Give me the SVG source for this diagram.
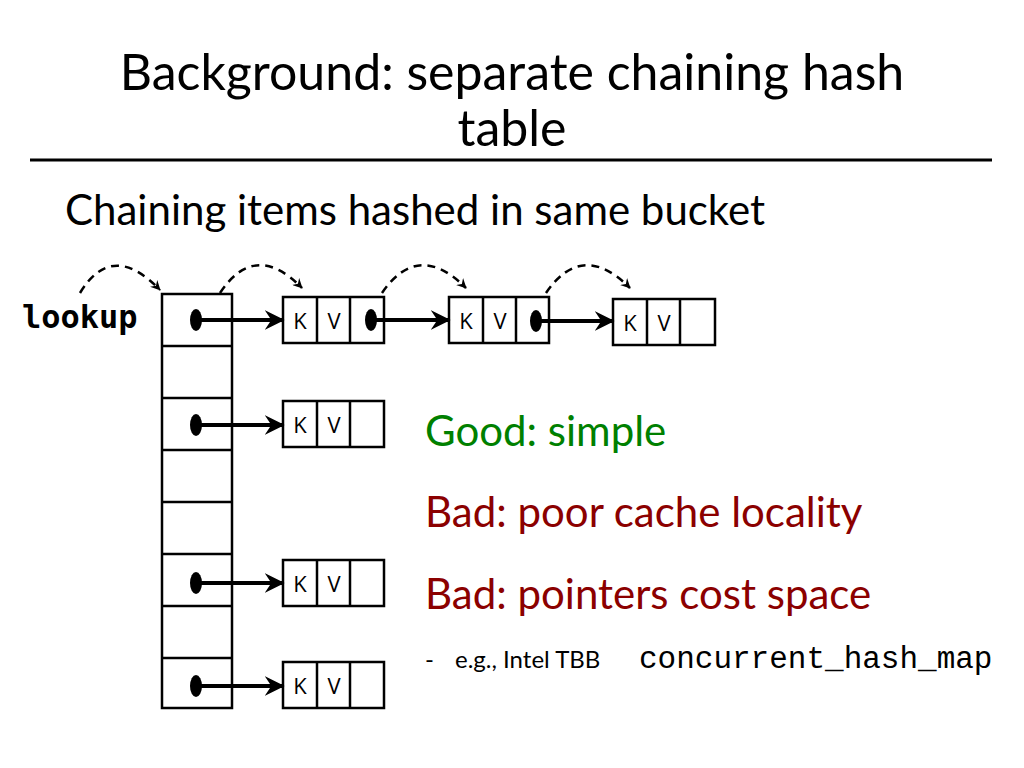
<svg xmlns="http://www.w3.org/2000/svg" width="1024" height="768" viewBox="0 0 1024 768">
<style>
.t{font-family:Lato,"Liberation Sans",sans-serif}
.b{fill:#fff;stroke:#000;stroke-width:2.5}
.l line,line.l{stroke:#000;stroke-width:2.5}
.c line{stroke:#000;stroke-width:4}
.d{fill:none;stroke:#000;stroke-width:2.5;stroke-dasharray:8,6}
.kv{font-family:"Open Sans","Liberation Sans",sans-serif;font-size:22px}
</style>
<defs>
<marker id="a" viewBox="0 0 12 12" refX="11" refY="6" markerWidth="10" markerHeight="10" markerUnits="userSpaceOnUse" orient="auto"><path d="M0,0 L12,6 L0,12 L4,6 Z"/></marker>
<marker id="ah" viewBox="0 0 12 12" refX="11" refY="6" markerWidth="20" markerHeight="20" markerUnits="userSpaceOnUse" orient="auto"><path d="M0,0 L12,6 L0,12 L4,6 Z"/></marker>
</defs>
<rect width="1024" height="768" fill="#fff"/>
<g id="title"><text class="t" x="512" y="90" font-size="50" text-anchor="middle">Background: separate chaining hash</text><text class="t" x="512" y="146" font-size="50" text-anchor="middle">table</text>
<line x1="30" y1="160" x2="992" y2="160" stroke="#000" stroke-width="3"/></g>
<text class="t" x="65" y="225" font-size="42">Chaining items hashed in same bucket</text>
<text x="22" y="328" font-family="'DejaVu Sans Mono',monospace" font-weight="bold" font-size="32">lookup</text>
<g id="table">
<rect class="b" x="162" y="294" width="70" height="414"/>
<g class="l"><line x1="162" y1="346" x2="232" y2="346"/><line x1="162" y1="398" x2="232" y2="398"/><line x1="162" y1="450" x2="232" y2="450"/><line x1="162" y1="502" x2="232" y2="502"/><line x1="162" y1="554" x2="232" y2="554"/><line x1="162" y1="606" x2="232" y2="606"/><line x1="162" y1="658" x2="232" y2="658"/></g>
</g>
<g id="nodes">
<g id="n1"><rect class="b" x="283" y="297" width="101" height="46"/><line class="l" x1="317" y1="297" x2="317" y2="343"/><line class="l" x1="350" y1="297" x2="350" y2="343"/><text class="kv" x="300" y="329" text-anchor="middle">K</text><text class="kv" x="334" y="329" text-anchor="middle">V</text></g>
<g id="n2"><rect class="b" x="449" y="297" width="100" height="46"/><line class="l" x1="483" y1="297" x2="483" y2="343"/><line class="l" x1="516" y1="297" x2="516" y2="343"/><text class="kv" x="466" y="329" text-anchor="middle">K</text><text class="kv" x="500" y="329" text-anchor="middle">V</text></g>
<g id="n3"><rect class="b" x="613" y="299" width="102" height="46"/><line class="l" x1="647" y1="299" x2="647" y2="345"/><line class="l" x1="680" y1="299" x2="680" y2="345"/><text class="kv" x="630" y="331" text-anchor="middle">K</text><text class="kv" x="664" y="331" text-anchor="middle">V</text></g>
<g id="n4"><rect class="b" x="283" y="401" width="101" height="46"/><line class="l" x1="317" y1="401" x2="317" y2="447"/><line class="l" x1="350" y1="401" x2="350" y2="447"/><text class="kv" x="300" y="433" text-anchor="middle">K</text><text class="kv" x="334" y="433" text-anchor="middle">V</text></g>
<g id="n5"><rect class="b" x="283" y="560" width="101" height="46"/><line class="l" x1="317" y1="560" x2="317" y2="606"/><line class="l" x1="350" y1="560" x2="350" y2="606"/><text class="kv" x="300" y="592" text-anchor="middle">K</text><text class="kv" x="334" y="592" text-anchor="middle">V</text></g>
<g id="n6"><rect class="b" x="283" y="662" width="101" height="46"/><line class="l" x1="317" y1="662" x2="317" y2="708"/><line class="l" x1="350" y1="662" x2="350" y2="708"/><text class="kv" x="300" y="694" text-anchor="middle">K</text><text class="kv" x="334" y="694" text-anchor="middle">V</text></g>
</g>
<g id="connectors">
<g fill="#000">
<ellipse cx="196" cy="320" rx="6" ry="11"/><ellipse cx="196" cy="425" rx="6" ry="11"/><ellipse cx="196" cy="583" rx="6" ry="11"/><ellipse cx="196" cy="686" rx="6" ry="11"/>
<ellipse cx="371" cy="320" rx="6" ry="11"/><ellipse cx="536" cy="321" rx="6" ry="11"/>
</g>
<g class="c">
<line x1="196" y1="320" x2="283" y2="320" marker-end="url(#ah)"/>
<line x1="196" y1="425" x2="283" y2="425" marker-end="url(#ah)"/>
<line x1="196" y1="583" x2="283" y2="583" marker-end="url(#ah)"/>
<line x1="196" y1="686" x2="283" y2="686" marker-end="url(#ah)"/>
<line x1="371" y1="320" x2="449" y2="320" marker-end="url(#ah)"/>
<line x1="536" y1="321" x2="613" y2="321" marker-end="url(#ah)"/>
</g>
<path class="d" d="M80,293 Q112,240 160,290" marker-end="url(#a)"/>
<path class="d" d="M220,293 Q255,240 302,288" marker-end="url(#a)"/>
<path class="d" d="M382,293 Q418,240 466,288" marker-end="url(#a)"/>
<path class="d" d="M546,293 Q582,240 630,288" marker-end="url(#a)"/>
</g>
<text class="t" x="425" y="446" font-size="42" fill="#008000">Good: simple</text>
<text class="t" x="425" y="527" font-size="42" fill="#8b0000">Bad: poor cache locality</text>
<text class="t" x="425" y="609" font-size="42" fill="#8b0000">Bad: pointers cost space</text>
<text class="t" x="425" y="668" font-size="24">-</text>
<text class="t" x="455" y="668" font-size="24">e.g., Intel TBB</text>
<text x="639" y="668" font-family="'Liberation Mono',monospace" font-size="31">concurrent_hash_map</text>
</svg>
